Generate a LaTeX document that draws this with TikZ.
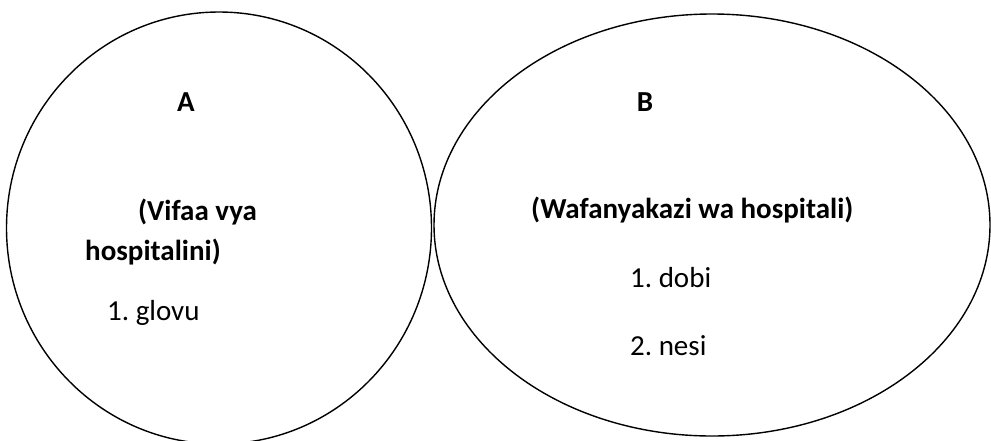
\documentclass[tikz,border=0pt]{standalone}
\usepackage{fontspec}
\setmainfont{Carlito}
\frenchspacing
\begin{document}
\begin{tikzpicture}[x=1pt,y=-1pt,
  lbl/.style={inner sep=0pt,font=\fontsize{29}{29}\selectfont\bfseries},
  itm/.style={inner sep=0pt,font=\fontsize{29}{29}\selectfont},
  ring/.style={draw=black,line width=1.4pt}]
\useasboundingbox (0,0) rectangle (991,440);
\draw[ring] (219,228) ellipse [x radius=212.5, y radius=216];
\draw[ring] (712,225) ellipse [x radius=278, y radius=211];
\node[lbl,anchor=base] (la) at (186,111) {A};
\node[lbl,anchor=base] (lb) at (645,111) {B};
\node[lbl,anchor=base west] (a1) at (138,220) {(Vifaa vya};
\node[lbl,anchor=base west] (a2) at (85,260) {hospitalini)};
\node[itm,anchor=base west] (a3) at (107,320) {1.\ glovu};
\node[lbl,anchor=base west] (b1) at (531,218) {(Wafanyakazi wa hospitali)};
\node[itm,anchor=base west] (b2) at (630,287) {1.\ dobi};
\node[itm,anchor=base west] (b3) at (630,355) {2.\ nesi};
\end{tikzpicture}
\end{document}
